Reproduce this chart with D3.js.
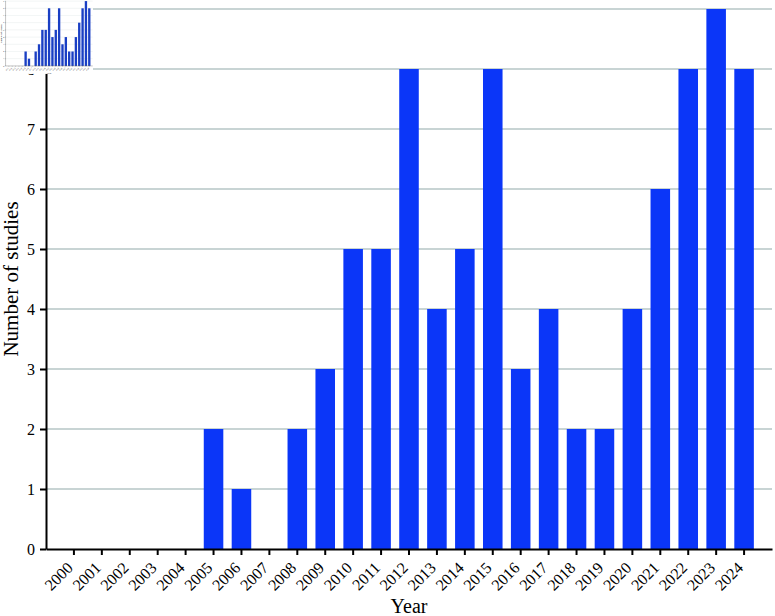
<!DOCTYPE html>
<html>
<head>
<meta charset="utf-8">
<script src="https://cdn.jsdelivr.net/npm/d3@7"></script>
<style>
    body { margin: 0; background: #fff; }
    svg text { font-family: "Liberation Serif", "DejaVu Serif", serif; fill: #000; }
</style>
</head>
<body>
<div id="chart"></div>
<script>
const years = ['2000', '2001', '2002', '2003', '2004', '2005', '2006', '2007', '2008', '2009',
    '2010', '2011', '2012', '2013', '2014', '2015', '2016', '2017', '2018', '2019',
    '2020', '2021', '2022', '2023', '2024'];
const studies = [0, 0, 0, 0, 0, 2, 1, 0, 2, 3, 5, 5, 8, 4, 5, 8, 3, 4, 2, 2, 4, 6, 8, 9, 8];
const yTicks = [0, 1, 2, 3, 4, 5, 6, 7, 8, 9];

const width = 775;
const height = 616;
const margin = { top: 9, right: 3, bottom: 67, left: 46 };
const thumbScale = 0.12;

const svg = d3.select('#chart')
    .append('svg')
    .attr('width', width)
    .attr('height', height);

function drawChart(g, barColor) {
    const data = years.map((year, i) => ({ year, value: studies[i] }));

    const x = d3.scaleBand()
        .domain(years)
        .range([margin.left, width - margin.right])
        .paddingInner(0.3)
        .paddingOuter(0.65);

    const y = d3.scaleLinear()
        .domain([0, d3.max(yTicks)])
        .range([height - margin.bottom, margin.top]);

    // grid lines
    g.append('g')
        .selectAll('line')
        .data(yTicks.filter(d => d > 0))
        .join('line')
        .attr('x1', margin.left)
        .attr('x2', width - margin.right)
        .attr('y1', d => y(d))
        .attr('y2', d => y(d))
        .attr('stroke', '#b6c6c6')
        .attr('stroke-width', 1.5);

    // bars
    g.append('g')
        .selectAll('rect')
        .data(data)
        .join('rect')
        .attr('x', d => x(d.year))
        .attr('y', d => y(d.value))
        .attr('width', x.bandwidth())
        .attr('height', d => y(0) - y(d.value))
        .attr('fill', barColor);

    // x axis
    const xAxis = g.append('g')
        .attr('transform', `translate(0,${y(0)})`)
        .call(d3.axisBottom(x).tickSize(6).tickSizeOuter(0));
    xAxis.select('.domain').attr('stroke-width', 2);
    xAxis.selectAll('.tick line').attr('stroke-width', 2);
    xAxis.selectAll('.tick text')
        .attr('x', null)
        .attr('y', null)
        .attr('dy', '0.35em')
        .attr('font-size', 16)
        .attr('text-anchor', 'end')
        .attr('transform', 'translate(-4,16) rotate(-45)');

    // y axis
    const yAxis = g.append('g')
        .attr('transform', `translate(${margin.left},0)`)
        .call(d3.axisLeft(y).tickValues(yTicks).tickSize(6).tickSizeOuter(0).tickPadding(5));
    yAxis.select('.domain').attr('stroke-width', 2);
    yAxis.selectAll('.tick line').attr('stroke-width', 2);
    yAxis.selectAll('.tick text').attr('font-size', 16);

    // axis titles
    g.append('text')
        .attr('transform', `translate(18,${(y(0) + y(9)) / 2}) rotate(-90)`)
        .attr('text-anchor', 'middle')
        .attr('font-size', 21)
        .text('Number of studies');

    g.append('text')
        .attr('x', (margin.left + width - margin.right) / 2)
        .attr('y', 613)
        .attr('text-anchor', 'middle')
        .attr('font-size', 20)
        .text('Year');
}

drawChart(svg.append('g'), '#0b36f8');

// small copy of the whole figure in the corner
const thumb = svg.append('g')
    .attr('transform', `scale(${thumbScale})`);
thumb.append('rect')
    .attr('width', width)
    .attr('height', height)
    .attr('fill', '#fff');
drawChart(thumb, '#1a3fc4');
</script>
</body>
</html>
